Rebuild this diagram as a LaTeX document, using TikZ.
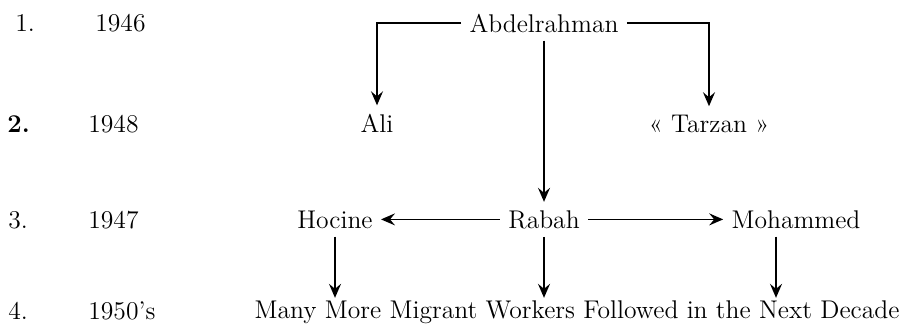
\documentclass[tikz,border=0pt]{standalone}
\usepackage{fontspec}
\usetikzlibrary{arrows.meta}
\begin{document}
\begin{tikzpicture}[x=0.5pt,y=-0.5pt,
    every node/.style={inner sep=0pt,anchor=base,font=\fontsize{12.8}{15}\selectfont},
    person/.style={inner sep=4pt},
    link/.style={line width=0.8pt,-{Stealth[length=7pt,width=6pt,inset=2.5pt]}}]
  \useasboundingbox (0,0) rectangle (914,328);
  % years
  \node[anchor=base west] (n1) at (15,31) {1.};
  \node[anchor=base west] (y1) at (95,31) {1946};
  \node[anchor=base west] (n2) at (7,132) {\textbf{2.}};
  \node[anchor=base west] (y2) at (88,132) {1948};
  \node[anchor=base west] (n3) at (8,228) {3.};
  \node[anchor=base west] (y3) at (88,228) {1947};
  \node[anchor=base west] (n4) at (8,319) {4.};
  \node[anchor=base west] (y4) at (88,319) {1950's};
  % family
  \node[person] (abd) at (544,32) {Abdelrahman};
  \node[person] (ali) at (377,132) {Ali};
  \node[person] (tarzan) at (709,132) {« Tarzan »};
  \node[person] (hocine) at (335,228) {Hocine};
  \node[person] (rabah) at (544,228) {Rabah};
  \node[person] (mohammed) at (796,228) {Mohammed};
  \node[inner sep=1pt] (many) at (577,318) {Many More Migrant Workers Followed in the Next Decade};
  \coordinate (mfoot) at ([xshift=-10pt]mohammed.south);
  \draw[link] (abd.west) -| (ali.north);
  \draw[link] (abd.east) -| (tarzan.north);
  \draw[link] (abd.south) -- (rabah.north);
  \draw[link] (rabah.west) -- (hocine.east |- rabah.west);
  \draw[link] (rabah.east) -- (mohammed.west |- rabah.east);
  \draw[link] (hocine.south) -- (hocine.south |- many.north);
  \draw[link] (rabah.south) -- (rabah.south |- many.north);
  \draw[link] (mfoot) -- (mfoot |- many.north);
\end{tikzpicture}
\end{document}
